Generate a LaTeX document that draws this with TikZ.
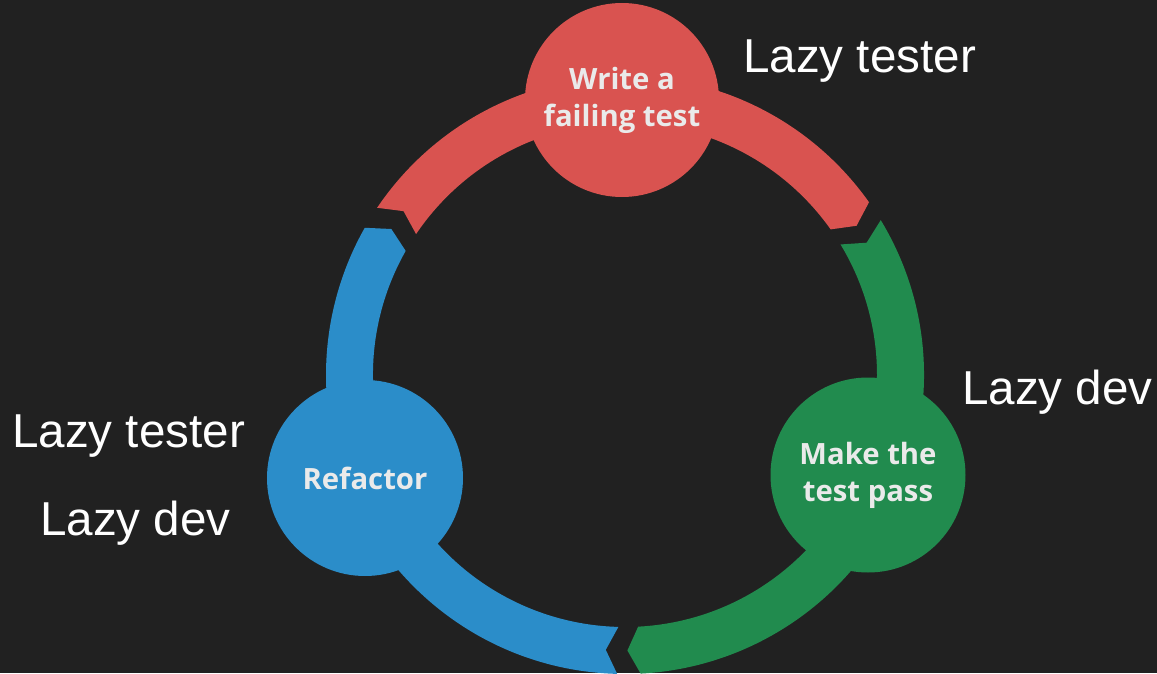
\documentclass[tikz,border=0pt]{standalone}
\usepackage{fontspec}
\newfontfamily\labelfont{Liberation Sans}
\newfontfamily\stagefont{Open Sans}
\definecolor{bg}{HTML}{212121}
\definecolor{tddred}{HTML}{D95350}
\definecolor{tddgreen}{HTML}{218B4E}
\definecolor{tddblue}{HTML}{2B8DC9}
\definecolor{stagetext}{HTML}{EAEAEA}

% one arrow-shaped piece of the cycle ring: colour, tail angle, head angle
% (the ring runs clockwise, so the head angle is the smaller one)
\newcommand\ringpiece[3]{%
  \fill[#1] (#2:299) arc[start angle=#2, end angle=#3, radius=299]
    -- ({#3-2.5}:275.5) -- (#3:252)
    arc[start angle=#3, end angle=#2, radius=252]
    -- ({#2-2.5}:275.5) -- cycle;}

\begin{document}
\begin{tikzpicture}[x=1pt, y=1pt,
  stage/.style={circle, fill=#1, minimum size=194, inner sep=0pt,
    text=stagetext, align=center,
    font=\stagefont\bfseries\fontsize{29.3}{37}\selectfont},
  side/.style={anchor=base west, inner sep=0pt, text=white,
    font=\labelfont\fontsize{47.6}{58}\selectfont}]

  \useasboundingbox (-625,-298) rectangle (532,375);
  \fill[bg] (-625,-298) rectangle (532,375);

  % ring pieces
  \ringpiece{tddred}{146}{35.3}
  \ringpiece{tddgreen}{31.2}{-87}
  \ringpiece{tddblue}{-91.5}{-209.5}

  % stages
  \node[stage=tddred] (write) at (-3,275) {Write a\\failing test};
  \node[stage=tddgreen, minimum size=195] (pass) at (243,-100) {Make the\\test pass};
  \node[stage=tddblue, minimum size=196] (refactor) at (-260,-103) {Refactor};

  % side notes
  \node[side] (tester1) at (118,302) {Lazy tester};
  \node[side] (dev1) at (337,-29) {Lazy dev};
  \node[side] (tester2) at (-613,-72) {Lazy tester};
  \node[side] (dev2) at (-585,-160) {Lazy dev};
\end{tikzpicture}
\end{document}
